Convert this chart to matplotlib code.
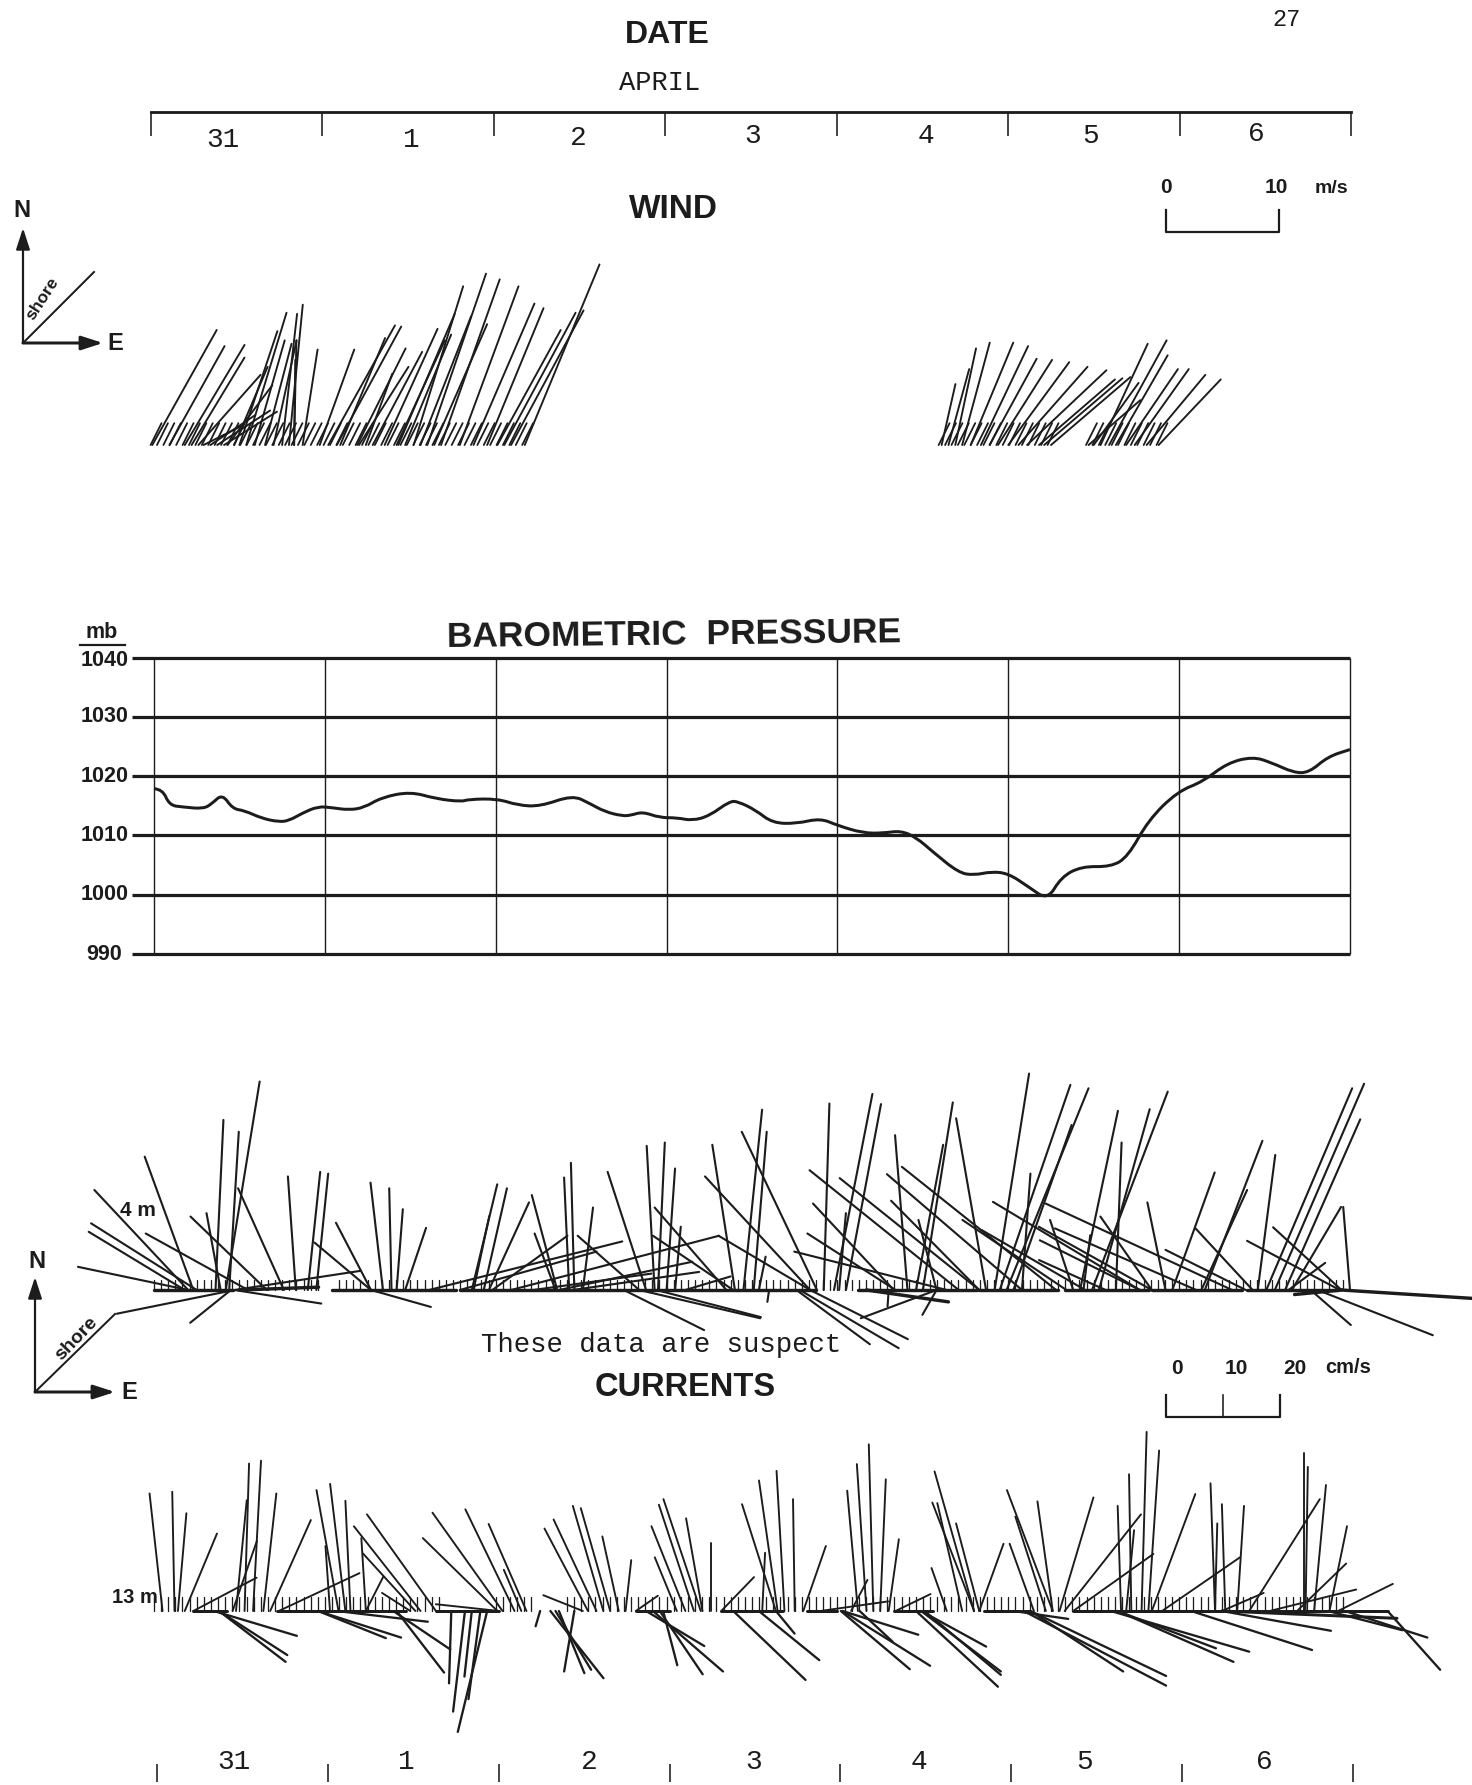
import matplotlib
matplotlib.use("Agg")
import matplotlib.pyplot as plt
from matplotlib.collections import LineCollection
from matplotlib.path import Path
from matplotlib.patches import PathPatch

W, H, DPI = 1472, 1785, 100
INK = "#1c1c1c"
SANS = "Liberation Sans"
MONO = "Liberation Mono"

# ---------- data ----------
date_labels = ["31", "1", "2", "3", "4", "5", "6"]
date_label_days = [0.42, 1.52, 2.49, 3.51, 4.52, 5.48, 6.45]
bottom_label_days = [0.45, 1.46, 2.53, 3.49, 4.46, 5.43, 6.48]
day_edges = [0, 1, 2, 3, 4, 5, 6, 7]
pressure_levels = [990, 1000, 1010, 1020, 1030, 1040]

pressure_day = [0, .05, .09, .17, .29, .34, .40, .46, .53, .63, .73, .79, .87, .96, 1.04, 1.14, 1.23,
                1.33, 1.50, 1.65, 1.80, 1.84, 2.01, 2.13, 2.26, 2.45, 2.55, 2.64, 2.74, 2.79, 2.86,
                2.96, 3.06, 3.15, 3.25, 3.37, 3.42, 3.52, 3.62, 3.76, 3.90, 4.00, 4.15, 4.27, 4.37,
                4.46, 4.56, 4.71, 4.80, 4.90, 5.00, 5.12, 5.23, 5.31, 5.43, 5.60, 5.70, 5.82, 5.99,
                6.14, 6.28, 6.43, 6.54, 6.67, 6.76, 6.87, 7.0]
pressure_mb = [1017.9, 1017.8, 1015.1, 1014.8, 1014.5, 1015.4, 1017.0, 1014.5, 1014.2, 1012.9, 1012.3,
               1012.5, 1013.8, 1014.9, 1014.7, 1014.3, 1014.7, 1016.4, 1017.4, 1016.2, 1015.7, 1016.1,
               1016.2, 1015.1, 1014.9, 1016.8, 1015.4, 1014.0, 1013.3, 1013.4, 1014.0, 1013.0, 1013.0,
               1012.5, 1013.3, 1015.8, 1015.7, 1014.3, 1012.1, 1012.0, 1012.9, 1011.7, 1010.4, 1010.4,
               1010.8, 1009.7, 1007.2, 1003.7, 1003.3, 1003.9, 1003.6, 1001.3, 999.1, 1003.0, 1004.8,
               1004.7, 1006.4, 1012.6, 1017.4, 1019.1, 1022.2, 1023.3, 1022.3, 1020.6, 1020.6, 1023.3,
               1024.5]

# wind sticks: (day, east m/s, north m/s)
wind_first = [(-.01, 5.6, 10.0), (.09, 4.8, 8.6), (.18, 5.2, 8.7), (.22, 4.6, 7.6), (.26, 5.4, 6.1),
              (.29, 3.2, 1.6), (.33, 3.9, 2.6), (.37, 4.6, 3.0), (.41, 4.6, 2.9), (.43, 3.9, 5.2),
              (.47, 2.9, 6.8), (.50, 3.3, 9.9), (.54, 3.5, 11.5), (.59, 2.6, 9.1), (.65, 2.3, 8.8),
              (.70, 2.0, 9.1), (.75, 1.3, 11.4), (.79, 1.2, 12.2), (.82, .2, 9.1), (.82, .1, 7.4),
              (.87, 1.3, 8.3), (.97, 3.0, 8.3), (1.02, 5.8, 10.4), (1.07, 5.6, 10.3), (1.09, 3.9, 9.3),
              (1.19, 4.2, 8.4), (1.20, 4.3, 6.8), (1.24, 2.3, 6.2), (1.28, 4.3, 8.1), (1.35, 4.6, 10.1),
              (1.42, 4.2, 9.1), (1.43, 4.9, 11.4), (1.52, 4.3, 13.8), (1.60, 5.1, 14.9), (1.68, 5.1, 14.4),
              (1.79, 5.1, 13.8), (1.87, 5.3, 12.3), (1.95, 4.9, 11.9), (2.01, 5.5, 10.0), (2.09, 6.3, 11.7),
              (2.17, 6.5, 15.7), (2.05, 6.2, 11.5), (1.47, 4.0, 9.6), (1.56, 4.4, 11.2), (1.64, 4.6, 10.5)]
wind_second = [(4.61, 1.2, 5.3), (4.65, 1.8, 6.6), (4.69, 1.8, 8.4), (4.73, 2.4, 8.9), (4.78, 3.7, 8.9),
               (4.84, 4.1, 8.6), (4.89, 4.1, 7.5), (4.94, 4.7, 7.4), (5.00, 5.3, 7.2), (5.06, 6.0, 6.8),
               (5.11, 6.9, 6.5), (5.25, 6.9, 5.9), (5.18, 6.6, 5.7), (5.21, 6.8, 5.8), (5.47, 4.5, 3.9),
               (5.54, 4.1, 8.8), (5.59, 5.0, 9.1), (5.63, 4.5, 7.8), (5.69, 4.5, 6.6), (5.74, 4.7, 6.6),
               (5.81, 5.1, 6.1), (5.88, 5.4, 5.7), (5.50, 3.9, 5.4)]
wind_stub_index = list(range(0, 59)) + list(range(123, 141)) + list(range(146, 158))
wind_stub_step = 0.0375
wind_stub_uv = (0.95, 1.9)

# 4 m currents: (day, east cm/s, north cm/s)
cur4_first = [(.20, -19.5, 4.1), (.18, -17.0, 10.3), (.25, -18.7, 11.8), (.20, -16.6, 17.7), (.23, -8.6, 23.6),
              (.55, -18.1, 10.0), (.66, -13.5, 13.0), (.39, -2.5, 13.6), (.36, 1.4, 30.1), (.44, 1.7, 28.0),
              (.42, 6.0, 36.9), (.76, -8.1, 18.0), (.83, -1.4, 20.1), (.90, 2.2, 20.9), (.95, 2.1, 20.6),
              (1.27, -10.0, 8.4), (1.27, -6.2, 11.9), (1.34, -2.2, 19.0), (1.39, -.4, 18.0), (1.42, 1.1, 14.3),
              (1.47, 3.7, 11.0), (.47, 22.4, 3.4), (.47, 15.4, -2.4), (.47, -20.8, -4.2), (.45, -7.2, -5.8),
              (1.27, 10.6, -3.0)]
cur4_second = [(1.86, 4.5, 18.7), (1.93, 4.1, 18.0), (1.87, 2.8, 13.1), (1.96, 7.1, 15.5), (2.36, -4.5, 16.8),
               (2.35, -3.7, 10.0), (2.43, -.9, 19.9), (2.46, -.6, 22.5), (2.51, 1.8, 14.6), (2.84, -10.9, 9.6),
               (2.88, -6.8, 20.9), (2.93, -1.4, 25.5), (2.95, 1.2, 26.1), (3.00, 1.5, 21.5), (3.05, 1.0, 11.2),
               (3.35, -12.7, 14.6), (3.39, -14.2, 9.6), (3.84, -18.6, 20.1), (3.40, -4.0, 25.7), (3.84, -16.2, 9.6),
               (1.61, 34.2, 8.6), (2.09, 36.8, 9.6), (2.37, 23.6, 5.0), (2.45, 22.4, 3.2), (2.22, 20.9, 2.9),
               (1.79, 24.2, 6.8), (1.98, 13.3, 9.6), (3.11, 8.0, 2.4), (2.75, 14.2, -7.1), (2.84, 21.4, -5.0),
               (2.94, 18.5, -4.8), (3.60, -.3, -2.1)]
cur4_third = [(3.88, -13.3, 28.0), (3.45, 3.3, 31.9), (3.51, 2.3, 28.0), (3.54, 1.2, 5.9), (3.92, 1.0, 33.0),
              (3.98, 6.8, 34.7), (4.05, 6.2, 32.9), (4.01, 1.2, 13.6), (4.71, -26.4, 21.2), (4.83, -24.7, 19.8),
              (4.33, -14.3, 15.3), (4.34, -15.6, 10.0), (4.64, -27.0, 6.8), (4.41, -2.2, 27.4), (4.50, 5.3, 33.2),
              (4.87, -5.3, 30.4), (4.46, 4.8, 25.7), (5.08, -23.9, 20.5), (5.28, -27.3, 21.8), (4.83, -15.6, 15.8),
              (4.58, -3.2, 12.4), (5.34, -18.4, 12.4), (5.77, -26.0, 15.6), (4.92, 6.1, 38.3), (4.95, 12.5, 36.3),
              (5.03, 10.3, 29.2), (4.99, 14.5, 35.7), (5.08, 1.5, 20.6), (6.31, -33.0, 15.3), (5.42, 6.7, 31.7),
              (5.63, 1.0, 26.1), (5.53, 9.0, 32.0), (5.49, 13.4, 35.1), (5.92, -3.2, 15.5), (5.84, -9.1, 13.0),
              (5.96, 7.5, 20.8), (6.15, 10.2, 26.4), (6.13, 8.1, 17.7), (6.43, -10.1, 10.9), (6.39, -14.2, 7.1),
              (6.46, 3.1, 23.9), (6.94, -16.4, 8.7), (6.95, -12.1, 11.1), (6.64, 6.5, 4.8), (6.10, -25.0, 10.9),
              (5.45, -18.3, 10.6), (5.84, -20.0, 11.2), (5.77, -17.7, 8.8), (5.57, -11.8, 5.3), (5.44, 1.2, 9.7),
              (5.38, -4.1, 12.4), (6.51, 15.2, 35.7), (6.56, 15.8, 36.5), (6.62, 13.3, 30.2), (6.66, 8.7, 14.7),
              (7.00, -1.2, 14.7), (6.77, 7.1, -6.2), (6.81, 20.4, -8.0), (3.76, 13.0, -9.6), (3.78, 17.5, -10.3),
              (3.84, 17.3, -8.7), (4.58, -13.4, -5.0), (4.58, -2.5, -4.4), (4.30, -.2, -2.9)]
cur4_zonal = [(0.0, 14, 0), (.5, 14, .5), (1.04, 22, 0), (1.79, 49, 0), (3.41, 14, 0), (4.12, 21, 0),
              (4.83, 14, 0), (5.33, 15, 0), (5.84, 16, 0), (6.40, 16, 0), (6.95, 23.4, -1.5), (6.95, -8.3, -.8),
              (4.17, 14.5, -2.1)]
cur4_stub_hours = list(range(0, 24)) + list(range(26, 168))
cur4_stub_v = 1.8

# 13 m currents: (day, east cm/s, north cm/s)
cur13_north = [(.05, -2.3, 20.8), (.12, -.4, 21.1), (.14, 1.5, 17.3), (.18, 5.7, 13.7), (.53, .8, 26.1),
               (.58, 1.4, 26.6), (.48, 1.9, 19.6), (.46, 4.3, 12.4), (.64, 2.3, 20.8), (.23, 11.2, 5.9),
               (.68, 7.2, 16.1), (1.08, -3.9, 21.4), (1.12, -2.7, 22.5), (1.15, -.9, 19.5), (1.03, -.8, 11.5),
               (.73, 14.3, 6.7), (1.24, -.8, 12.9), (1.56, -11.8, 15.0), (1.65, -12.2, 17.1), (1.53, -9.3, 10.2),
               (1.24, 3.1, 6.1), (1.50, -5.0, 3.2), (2.04, -12.4, 17.4), (2.11, -8.7, 18.0), (2.01, -13.2, 12.9),
               (2.18, -6.7, 15.4), (2.15, -3.1, 7.3), (2.02, -11.2, 1.2), (2.51, -7.0, 2.8), (2.54, -7.7, 14.6),
               (2.59, -7.6, 16.2), (2.63, -5.4, 18.6), (2.67, -5.2, 18.2), (2.72, -2.9, 13.2), (2.76, 1.0, 9.0),
               (2.82, 3.9, 2.7), (3.11, -6.0, 15.0), (3.16, -6.2, 18.8), (3.20, -6.6, 19.8), (3.06, -3.9, 9.5),
               (3.21, -2.9, 16.4), (3.26, 0, 12.1), (3.32, 5.8, 6.0), (3.64, -6.0, 18.9), (3.65, -3.3, 23.1),
               (3.69, -1.4, 24.8), (3.56, .5, 10.3), (3.75, -.3, 19.8), (3.80, 4.0, 11.5), (4.12, -1.9, 21.3),
               (4.17, -1.7, 26.0), (4.21, -.8, 29.5), (4.25, 1.0, 23.3), (4.30, 1.8, 12.7), (4.08, 2.9, 5.5),
               (3.90, 12.0, 1.7), (4.34, 6.2, 3.0), (4.80, -7.0, 24.7), (4.80, -7.4, 19.2), (4.83, -4.1, 15.5),
               (4.64, -2.7, 7.6), (4.73, -4.4, 19.1), (4.83, 4.3, 11.9), (5.26, -8.1, 21.4), (5.22, -5.4, 16.7),
               (5.15, -4.3, 11.9), (5.26, -2.7, 19.4), (5.30, 6.0, 20.1), (5.33, 13.5, 17.1), (5.38, 14.2, 10.1),
               (5.66, -.6, 18.6), (5.72, -.4, 24.2), (5.69, 1.4, 14.3), (5.78, .9, 31.7), (5.82, 1.9, 28.4),
               (5.84, 7.7, 20.7), (5.90, 13.8, 9.5), (6.21, -.8, 22.6), (6.27, -.6, 18.9), (6.34, 1.2, 18.6),
               (6.21, .4, 15.5), (6.25, 7.4, 3.2), (6.41, 12.5, 19.8), (6.73, 0, 27.9), (6.74, .4, 25.5),
               (6.79, 2.1, 22.3), (6.88, 3.1, 15.0), (6.69, 8.7, 8.4), (6.53, 15.3, 3.8), (6.93, 9.7, 4.8)]
cur13_south = [(.35, 14.7, -4.4), (.38, 12.1, -7.8), (.38, 11.8, -9.0), (1.07, 16.1, -1.9), (.96, 14.7, -4.7),
               (.96, 12.0, -4.8), (1.40, 10.1, -6.8), (1.42, 8.4, -10.9), (1.74, -.4, -12.8), (1.82, -2.1, -17.8),
               (1.95, -5.2, -21.4), (1.91, -2.1, -15.6), (1.86, -1.3, -11.6), (2.26, -.8, -2.7), (2.32, 9.4, -11.9),
               (2.35, 6.3, -10.4), (2.46, -1.8, -10.7), (2.37, 4.5, -11.0), (2.88, 10.3, -6.2), (2.92, 12.4, -10.7),
               (2.96, 7.6, -11.2), (2.98, 2.5, -9.6), (4.03, 13.4, -4.2), (4.02, 12.2, -10.3), (4.03, 15.5, -9.7),
               (4.13, 5.8, -5.4), (3.54, 10.7, -8.7), (3.39, 12.8, -12.2), (3.64, 3.3, -4.0), (4.49, 11.5, -6.3),
               (4.49, 14.1, -10.7), (4.51, 13.5, -11.3), (4.46, 14.5, -13.4), (5.03, 9.7, -1.4), (5.13, 24.0, -11.5),
               (5.09, 25.2, -13.2), (5.13, 16.4, -10.7), (5.60, 24.5, -7.2), (5.64, 20.5, -9.0), (5.64, 17.4, -6.6),
               (6.07, 21.4, -6.9), (6.25, 19.3, -3.5), (6.97, 14.6, -4.7), (7.22, 9.3, -10.4), (6.87, 13.2, -3.4)]
cur13_zonal = [(.23, 6, 0), (.72, 22.8, 0), (1.65, 11.2, 0), (2.82, 6, 0), (3.32, 11, 0), (3.82, 5.4, 0),
               (4.33, 7, 0), (4.86, 8, 0), (5.38, 24.8, 0), (6.2, 31, 0), (6.25, 31, -1.3)]
cur13_stub_hours = list(range(0, 41)) + list(range(48, 54)) + list(range(58, 168))
cur13_stub_v = 2.5

# ---------- layout ----------
fig = plt.figure(figsize=(W / DPI, H / DPI), dpi=DPI, facecolor="white")
LEFT, RIGHT = 154, 1350
PX_DAY = (RIGHT - LEFT) / 7


def px(v):
    return v * 72 / DPI


def box(x0, y0, x1, y1):
    return fig.add_axes([x0 / W, 1 - y1 / H, (x1 - x0) / W, (y1 - y0) / H])


def stick_axes(base_y, scale):
    top, bottom = base_y - 230, base_y + 170
    ax = box(LEFT, top, RIGHT, bottom)
    ax.set_xlim(0, 7)
    ax.set_ylim(-(bottom - base_y) / scale, (base_y - top) / scale)
    ax.axis("off")
    return ax


def draw_sticks(ax, sticks, scale, width):
    k = scale / PX_DAY
    segs = [[(d, 0), (d + u * k, v)] for d, u, v in sticks]
    ax.add_collection(LineCollection(segs, colors=INK, linewidths=px(width), clip_on=False, capstyle="round"))


# overlay for text and hand-drawn furniture
ov = fig.add_axes([0, 0, 1, 1], zorder=5)
ov.set_xlim(0, W)
ov.set_ylim(H, 0)
ov.axis("off")


def T(x, y, s, size=15, weight="bold", fam=SANS, rot=0, ha="center"):
    ov.text(x, y, s, fontsize=size, fontweight=weight, family=fam, rotation=rot, ha=ha, va="center",
            color=INK, rotation_mode="anchor")


T(1287, 19, "27", 17, "normal", MONO)
T(667, 35, "DATE", 23)
T(660, 83, "APRIL", 19.5, "normal", MONO)
T(673, 209, "WIND", 24)
T(674, 635, "BAROMETRIC  PRESSURE", 25.5, rot=0.6)
T(685, 1387, "CURRENTS", 23.5)
T(661, 1345, "These data are suspect", 19.7, "normal", MONO)

# date axis at top
ax_d = box(151, 112, 1351, 132)
ax_d.set_xlim(0, 7)
ax_d.set_ylim(1, 0)
ax_d.patch.set_alpha(0)
for s in ("left", "right", "bottom"):
    ax_d.spines[s].set_visible(False)
ax_d.spines["top"].set_linewidth(px(2.8))
ax_d.spines["top"].set_color(INK)
ax_d.xaxis.tick_top()
ax_d.set_xticks(day_edges)
ax_d.set_xticklabels([])
ax_d.set_yticks([])
ax_d.tick_params(axis="x", direction="in", length=px(24), width=px(1.6), color=INK)
for d, lab, y in zip(date_label_days, date_labels, [1.2, 1.2, 1.1, 1.0, 1.0, 1.0, .9]):
    ax_d.text(d, y + .2, lab, fontsize=20, family=MONO, ha="center", va="center", color=INK, clip_on=False)

# bottom date ticks
ax_b = box(157, 1764, 1353, 1785)
ax_b.set_xlim(0, 7)
ax_b.patch.set_alpha(0)
for s in ax_b.spines.values():
    s.set_visible(False)
ax_b.set_yticks([])
ax_b.set_xticks(day_edges)
ax_b.set_xticklabels([])
ax_b.xaxis.tick_top()
ax_b.tick_params(axis="x", direction="in", length=px(18), width=px(1.6), color=INK)
for d, lab in zip(bottom_label_days, date_labels):
    ax_b.text(d, 0.5, lab, fontsize=20, family=MONO, ha="center", va="bottom", color=INK, clip_on=False)

# wind
WS = 11.5
ax_w = stick_axes(445, WS)
draw_sticks(ax_w, wind_first + wind_second, WS, 1.9)
draw_sticks(ax_w, [(-.02 + i * wind_stub_step, wind_stub_uv[0], wind_stub_uv[1]) for i in wind_stub_index], WS, 1.8)

# pressure
ax_p = box(LEFT, 657.7, RIGHT, 954)
ax_p.set_xlim(0, 7)
ax_p.set_ylim(990, 1040)
ax_p.axis("off")
ax_p.hlines(pressure_levels, -0.13, 7, color=INK, lw=px(3.2), clip_on=False)
ax_p.vlines(day_edges, 990, 1040, color=INK, lw=px(1.4), clip_on=False)
pts = list(zip(pressure_day, pressure_mb))
verts, codes = [pts[0]], [Path.MOVETO]
for a, b in zip(pts[1:-1], pts[2:]):
    verts += [a, ((a[0] + b[0]) / 2, (a[1] + b[1]) / 2)]
    codes += [Path.CURVE3, Path.CURVE3]
verts.append(pts[-1])
codes.append(Path.LINETO)
ax_p.add_patch(PathPatch(Path(verts, codes), fill=False, edgecolor=INK, lw=px(3.0), clip_on=False,
                         joinstyle="round"))
for lev in pressure_levels:
    ax_p.text(-0.29, lev - (0.4 if lev == 1040 else 0), str(lev), fontsize=15.5, fontweight="bold", family=SANS,
              ha="center", va="center", color=INK, clip_on=False)
T(102, 632, "mb", 15.5)
ov.plot([80, 125], [645, 645], color=INK, lw=px(2.2))

# currents
CS = 5.65
ax_c4 = stick_axes(1290, CS)
draw_sticks(ax_c4, cur4_first + cur4_second + cur4_third, CS, 2.1)
draw_sticks(ax_c4, cur4_zonal, CS, 3.4)
draw_sticks(ax_c4, [(h / 24, 0, cur4_stub_v) for h in cur4_stub_hours], CS, 1.3)

ax_c13 = stick_axes(1611, CS)
draw_sticks(ax_c13, cur13_north, CS, 1.9)
draw_sticks(ax_c13, cur13_south, CS, 2.3)
draw_sticks(ax_c13, cur13_zonal, CS, 3.0)
draw_sticks(ax_c13, [(h / 24, 0, cur13_stub_v) for h in cur13_stub_hours], CS, 1.3)

T(138, 1210, "4 m", 15)
T(135, 1597, "13 m", 14.5)

# scale bars
T(1166, 187, "0", 15)
T(1276, 187, "10", 15)
T(1331, 188, "m/s", 14)
ov.plot([1166, 1166, 1279, 1279], [210, 232, 232, 210], color=INK, lw=px(2.2))
T(1177, 1368, "0", 15)
T(1236, 1368, "10", 15)
T(1295, 1368, "20", 15)
T(1348, 1367, "cm/s", 14.5)
ov.plot([1166, 1166, 1280, 1280], [1395, 1417, 1417, 1395], color=INK, lw=px(2.2))
ov.plot([1223, 1223], [1395, 1417], color=INK, lw=px(1.6))


def compass(x0, y0, north, east, sx, sy, nx, ny, ex, ey, tx, ty, tsize, trot):
    ov.annotate("", xy=(x0, north), xytext=(x0, y0),
                arrowprops=dict(arrowstyle="-|>,head_width=0.42,head_length=1.3", color=INK, lw=px(2.2), shrinkA=0, shrinkB=0))
    ov.annotate("", xy=(east, y0), xytext=(x0, y0),
                arrowprops=dict(arrowstyle="-|>,head_width=0.42,head_length=1.3", color=INK, lw=px(3), shrinkA=0, shrinkB=0))
    ov.plot([x0, sx], [y0, sy], color=INK, lw=px(2))
    T(nx, ny, "N", 17)
    T(ex, ey, "E", 17)
    T(tx, ty, "shore", tsize, rot=trot)


compass(23, 343, 228, 103, 94, 272, 22, 210, 115, 343, 42, 299, 12.5, 57)
compass(35, 1392, 1277, 115, 115, 1314, 37, 1261, 129, 1392, 76, 1339, 14, 46)

fig.savefig("out.png", dpi=DPI, facecolor="white")
